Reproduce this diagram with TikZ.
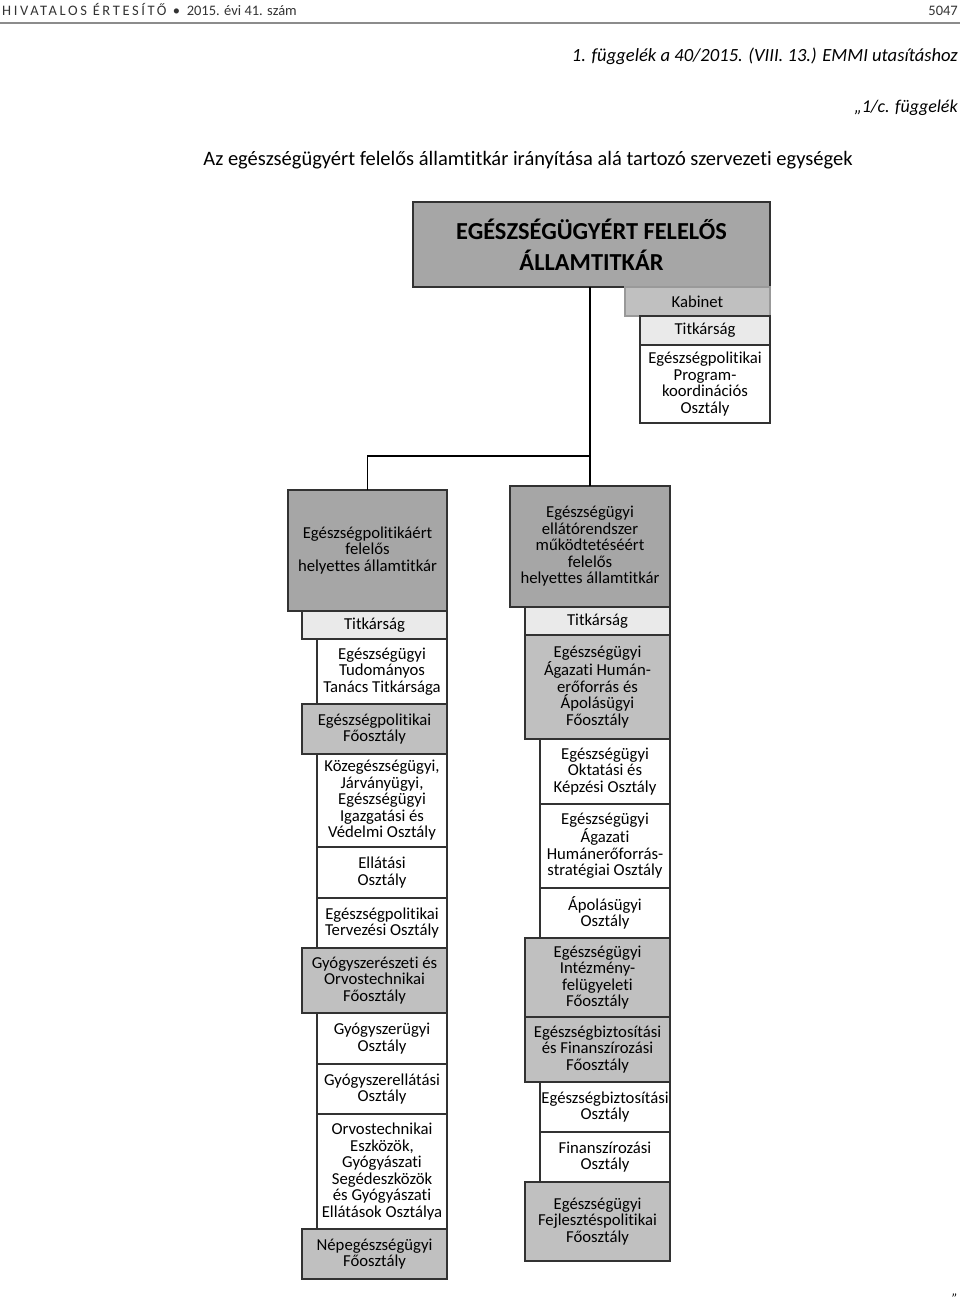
\documentclass[tikz,border=0pt]{standalone}
\usepackage{fontspec}
\setmainfont{Carlito}[Ligatures={NoCommon,NoContextual}]
\newfontfamily\spaced[LetterSpace=18]{Carlito}
\usepackage{xcolor}
\usetikzlibrary{positioning, math}
\definecolor{mydark}{RGB}{166,166,166}
\definecolor{mymid}{RGB}{192,192,192}
\definecolor{mylight}{RGB}{234,234,234}
\definecolor{myline}{RGB}{50,50,50}
\newcommand{\boxfont}{\fontsize{16.7}{16.5}\selectfont}

\begin{document}
\begin{tikzpicture}[x=1pt,y=-1pt,
  box/.style={draw=myline, line width=1.2pt, inner sep=0pt, outer sep=0pt, align=center, font=\boxfont, anchor=north east},
  wide/.style={box, minimum width=145pt},
  narrow/.style={box, minimum width=130pt, fill=white},
  fo/.style={wide, fill=mymid},
  tit/.style={wide, fill=mylight},
  dep/.style={box, fill=mydark, minimum width=159pt, minimum height=121pt},
  link/.style={line width=1.8pt, black}]
\tikzmath{
\xL=447;%right edge, left column
\xR=670;%right edge, right column
\xT=770;
}
\useasboundingbox (0,0) rectangle (960,1307);

% page head
\node[anchor=base west, font=\fontsize{14.5}{14.5}\selectfont, text=black!80, inner sep=0pt] (head) at (2,15)
  {{\spaced HIVATALOS ÉRTESÍTŐ}\ \ •\ \ 2015. évi 41. szám};
\node[anchor=base east, font=\fontsize{14.5}{14.5}\selectfont, text=black!80, inner sep=0pt] (page) at (958,15) {5047};
\draw[line width=2pt, black!45] (0,23) -- (960,23);
\node[anchor=base east, font=\fontsize{18.6}{18.6}\selectfont\itshape, inner sep=0pt] (ref) at (958,61)
  {1. függelék a 40/2015. (VIII. 13.) EMMI utasításhoz};
\node[anchor=base east, font=\fontsize{18}{18}\selectfont\itshape, inner sep=0pt] (app) at (958,112) {„1/c. függelék};
\node[font=\fontsize{20.5}{20.5}\selectfont, inner sep=0pt] (title) at (528,160)
  {Az egészségügyért felelős államtitkár irányítása alá tartozó szervezeti egységek};

% top
\node[box, fill=mydark, line width=2pt, minimum width=357pt, minimum height=85pt,
  font=\fontsize{24.4}{31}\selectfont\bfseries] (top) at (\xT,202) {EGÉSZSÉGÜGYÉRT FELELŐS\\ÁLLAMTITKÁR};
\node[wide, fill=mymid, draw=black!40, minimum height=29pt] (kab) at (top.south east) {Kabinet};
\node[box, fill=mylight, minimum width=130pt, minimum height=29pt] (ttit) at (kab.south east) {Titkárság};
\node[narrow, minimum height=78pt] (prog) at (ttit.south east) {Egészségpolitikai\\Program-\\koordinációs\\Osztály};

% deputies
\node[dep] (dep1) at (\xL,490) {Egészségpolitikáért\\felelős\\helyettes államtitkár};
\node[dep, minimum width=160pt] (dep2) at (\xR,486) {Egészségügyi\\ellátórendszer\\működtetéséért\\felelős\\helyettes államtitkár};
\coordinate (hub) at (dep2.north |- 0,456);
\draw[link] (dep2.north) -- (dep2.north |- top.south);
\draw[link] (dep1.north) |- (hub);

% left column
\node[tit, minimum height=28pt] (l1) at (dep1.south east) {Titkárság};
\node[narrow, minimum height=65pt] (l2) at (l1.south east) {Egészségügyi\\Tudományos\\Tanács Titkársága};
\node[fo, minimum height=50pt] (l3) at (l2.south east) {Egészségpolitikai\\Főosztály};
\node[narrow, minimum height=93pt] (l4) at (l3.south east) {Közegészségügyi,\\Járványügyi,\\Egészségügyi\\Igazgatási és\\Védelmi Osztály};
\node[narrow, minimum height=51pt] (l5) at (l4.south east) {Ellátási\\Osztály};
\node[narrow, minimum height=50pt] (l6) at (l5.south east) {Egészségpolitikai\\Tervezési Osztály};
\node[fo, minimum height=65pt] (l7) at (l6.south east) {Gyógyszerészeti és\\Orvostechnikai\\Főosztály};
\node[narrow, minimum height=51pt] (l8) at (l7.south east) {Gyógyszerügyi\\Osztály};
\node[narrow, minimum height=50pt] (l9) at (l8.south east) {Gyógyszerellátási\\Osztály};
\node[narrow, minimum height=115pt] (l10) at (l9.south east) {Orvostechnikai\\Eszközök,\\Gyógyászati\\Segédeszközök\\és Gyógyászati\\Ellátások Osztálya};
\node[fo, minimum height=50pt] (l11) at (l10.south east) {Népegészségügyi\\Főosztály};

% right column
\node[tit, minimum height=28pt] (r1) at (dep2.south east) {Titkárság};
\node[fo, minimum height=104pt] (r2) at (r1.south east) {Egészségügyi\\Ágazati Humán-\\erőforrás és\\Ápolásügyi\\Főosztály};
\node[narrow, minimum height=65pt] (r3) at (r2.south east) {Egészségügyi\\Oktatási és\\Képzési Osztály};
\node[narrow, minimum height=84pt] (r4) at (r3.south east) {Egészségügyi\\Ágazati\\Humánerőforrás-\\stratégiai Osztály};
\node[narrow, minimum height=50pt] (r5) at (r4.south east) {Ápolásügyi\\Osztály};
\node[fo, minimum height=79pt] (r6) at (r5.south east) {Egészségügyi\\Intézmény-\\felügyeleti\\Főosztály};
\node[fo, minimum height=65pt] (r7) at (r6.south east) {Egészségbiztosítási\\és Finanszírozási\\Főosztály};
\node[narrow, minimum height=50pt] (r8) at (r7.south east) {Egészségbiztosítási\\Osztály};
\node[narrow, minimum height=50pt] (r9) at (r8.south east) {Finanszírozási\\Osztály};
\node[fo, minimum height=79pt] (r10) at (r9.south east) {Egészségügyi\\Fejlesztéspolitikai\\Főosztály};

\node[anchor=base east, font=\fontsize{14}{14}\selectfont\itshape, inner sep=0pt] (endq) at (958,1303) {”};
\end{tikzpicture}
\end{document}
